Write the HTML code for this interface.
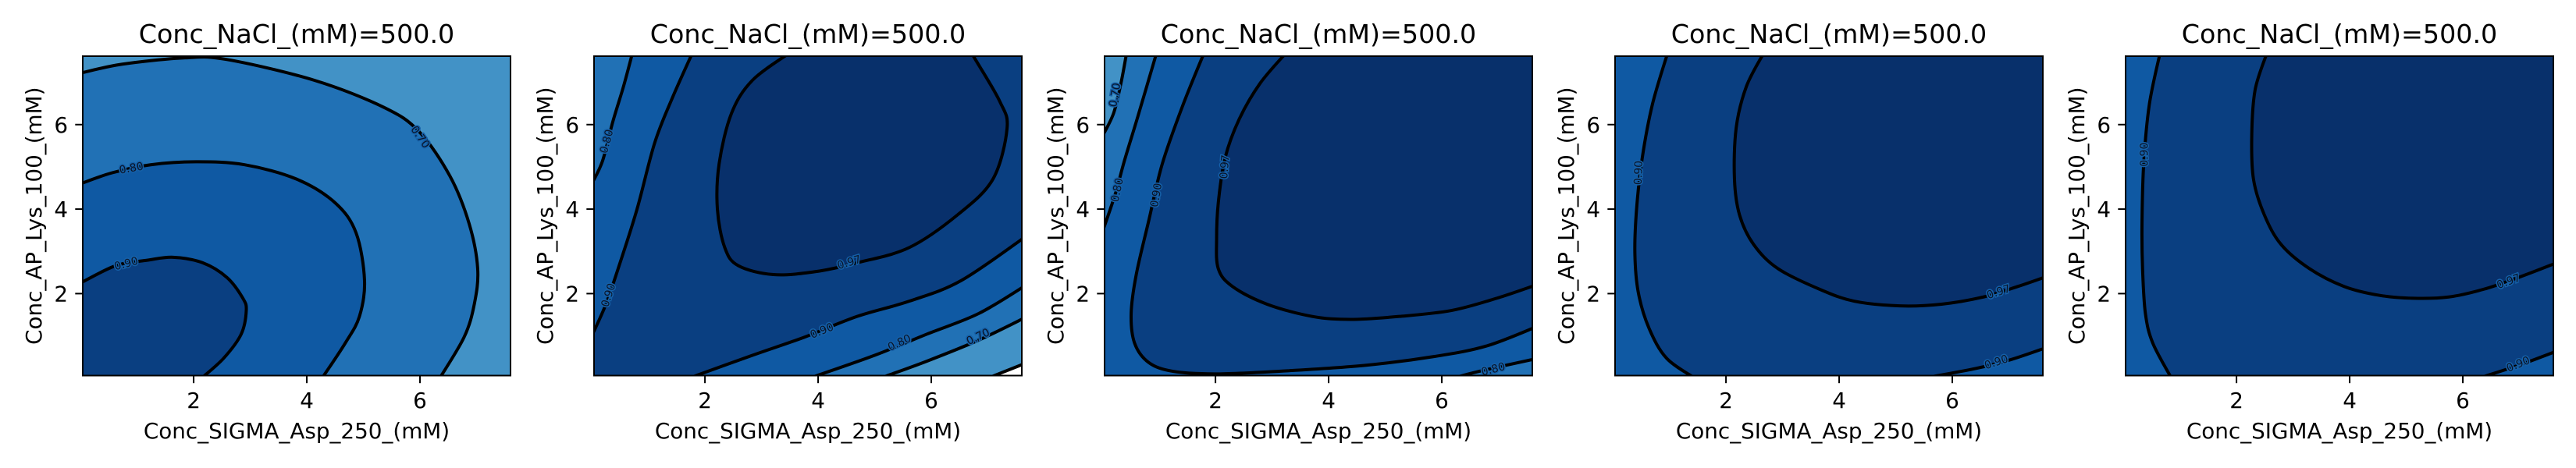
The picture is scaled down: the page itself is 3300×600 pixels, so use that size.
<!DOCTYPE html>
<html>
<head>
<meta charset="utf-8">
<style>
  html, body { margin: 0; padding: 0; background: #ffffff; }
  svg { display: block; }
  text { font-family: "DejaVu Sans", "Liberation Sans", sans-serif; fill: #000; }
</style>
</head>
<body>
<svg id="fig" xmlns="http://www.w3.org/2000/svg" width="3300" height="600" viewBox="0 0 3300 600">
  <rect x="0" y="0" width="3300" height="600" fill="#ffffff"></rect>
</svg>
<script>
// ---------- data ----------
const xTicks = [2, 4, 6];
const yTicks = [2, 4, 6];
const panelTitles = ["Conc_NaCl_(mM)=500.0","Conc_NaCl_(mM)=500.0","Conc_NaCl_(mM)=500.0","Conc_NaCl_(mM)=500.0","Conc_NaCl_(mM)=500.0"];
const xLabelText = "Conc_SIGMA_Asp_250_(mM)";
const yLabelText = "Conc_AP_Lys_100_(mM)";
const levelColors = {base0:"#ffffff", 0.6:"#4292c6", 0.7:"#2171b5", 0.8:"#0f59a3", 0.9:"#0a3f81", 0.97:"#08306b"};

// panel 1
const p1Base = 0.6;
const p1Levels = [0.9, 0.8, 0.7];
const p1Lines = [
  [[0,2.25],[0.62,2.66],[1.18,2.79],[1.64,2.86],[2.16,2.73],[2.59,2.38],[2.87,1.89],[2.93,1.6],[2.84,1.04],[2.53,0.47],[2.14,0]],
  [[0,4.6],[0.56,4.86],[1.24,5.05],[2.04,5.12],[2.9,5.05],[3.82,4.71],[4.5,4.15],[4.87,3.44],[5.02,2.31],[4.93,1.46],[4.68,0.83],[4.27,0]],
  [[0,7.22],[0.74,7.43],[1.85,7.58],[2.59,7.54],[4.13,7.05],[5.36,6.41],[5.98,5.84],[6.53,4.78],[6.87,3.65],[7.02,2.59],[6.96,1.75],[6.78,0.97],[6.35,0]]
];
const p1Fills = [[0.7,[2,"BL"]],[0.8,[1,"BL"]],[0.9,[0,"BL"]]];
const p1Labels = [["0.90",0.81,2.7,-15],["0.80",0.9,4.96,-10],["0.70",6.0,5.7,55]];

// panel 2
const p2Base = "base0";
const p2Levels = [0.8, 0.9, 0.97, 0.9, 0.8, 0.7, 0.6];
const p2Lines = [
  [[0,4.6],[0.19,5.14],[0.37,6.06],[0.56,6.9],[0.72,7.7]],
  [[0,1.0],[0.25,1.75],[0.5,2.73],[0.8,4.0],[1.11,5.56],[1.42,6.62],[1.78,7.7]],
  [[3.5,7.7],[2.84,7.05],[2.47,6.27],[2.25,5.07],[2.22,4.0],[2.35,3.09],[2.59,2.66],[3.21,2.45],[3.95,2.52],[4.69,2.73],[5.61,3.09],[6.47,3.87],[7.09,4.71],[7.34,5.92],[7.21,6.55],[6.78,7.54],[6.7,7.7]],
  [[1.72,0],[2.84,0.54],[3.76,0.97],[4.69,1.46],[5.61,1.82],[6.53,2.31],[7.7,3.38]],
  [[3.85,0],[5.0,0.54],[5.92,1.04],[6.84,1.53],[7.7,2.22]],
  [[5.1,0],[5.92,0.4],[6.84,0.9],[7.7,1.46]],
  [[7.0,0],[7.7,0.37]]
];
const p2Fills = [[0.6,[6,"TR","TL","BL"]],[0.7,[5,"TR","TL","BL"]],[0.8,[0,"TR",-4,"BL"]],[0.9,[1,"TR",-3,"BL"]],[0.97,[2]]];
const p2Labels = [["0.80",0.27,5.6,-75],["0.90",0.3,1.96,-72],["0.97",4.55,2.73,-17],["0.90",4.07,1.11,-22],["0.80",5.44,0.83,-25],["0.70",6.83,0.97,-25]];

// panel 3
const p3Base = 0.6;
const p3Levels = [0.7, 0.8, 0.9, 0.8, 0.97];
const p3Lines = [
  [[0,5.72],[0.2,6.27],[0.33,6.98],[0.43,7.7]],
  [[0,3.45],[0.23,4.36],[0.39,5.14],[0.63,6.2],[0.96,7.7]],
  [[1.8,7.7],[1.43,6.48],[1.06,5.07],[0.82,3.72],[0.6,2.45],[0.51,1.53],[0.57,0.83],[0.82,0.37],[1.25,0.16],[1.99,0.1],[3.1,0.16],[4.63,0.3],[5.86,0.51],[6.79,0.76],[7.7,1.23]],
  [[6.2,0],[6.66,0.16],[7.7,0.47]],
  [[3.25,7.7],[2.79,6.98],[2.42,6.13],[2.17,5.21],[2.05,4.15],[2.02,3.3],[2.05,2.59],[2.3,2.17],[2.91,1.75],[3.71,1.46],[4.39,1.39],[5.25,1.46],[6.17,1.6],[6.97,1.89],[7.7,2.22]]
];
const p3Fills = [[0.7,[0,"TR","BR","BL"]],[0.8,[1,"TR",-3,"BL"]],[0.9,[2,"TR"]],[0.97,[4,"TR"]]];
const p3Labels = [["0.70",0.23,6.7,-80],["0.80",0.27,4.45,-78],["0.90",0.96,4.33,-80],["0.97",2.17,5.0,-85],["0.80",6.91,0.2,-15]];

// panel 4
const p4Base = 0.8;
const p4Levels = [0.9, 0.9, 0.97];
const p4Lines = [
  [[0.97,7.7],[0.7,6.48],[0.52,5.21],[0.42,4.0],[0.39,2.95],[0.45,2.03],[0.64,1.18],[0.95,0.47],[1.45,0]],
  [[5.5,0],[6.42,0.23],[7.04,0.44],[7.7,0.74]],
  [[2.67,7.7],[2.36,6.9],[2.18,5.92],[2.15,4.71],[2.24,3.86],[2.49,3.16],[2.92,2.59],[3.66,2.1],[4.27,1.82],[5.07,1.71],[5.81,1.75],[6.55,1.92],[7.16,2.17],[7.7,2.42]]
];
const p4Fills = [[0.9,[0,1,"TR"]],[0.97,[2,"TR"]]];
const p4Labels = [["0.90",0.46,4.86,-88],["0.97",6.82,2.03,-18],["0.90",6.78,0.37,-18]];

// panel 5
const p5Base = 0.8;
const p5Levels = [0.9, 0.9, 0.97];
const p5Lines = [
  [[0.65,7.7],[0.46,6.48],[0.36,5.07],[0.33,3.65],[0.34,2.59],[0.39,1.53],[0.52,0.83],[0.85,0]],
  [[6.28,0],[6.98,0.3],[7.7,0.66]],
  [[2.54,7.7],[2.33,6.83],[2.27,5.77],[2.3,4.71],[2.49,3.87],[2.79,3.16],[3.29,2.59],[3.9,2.17],[4.52,1.96],[5.13,1.89],[5.75,1.92],[6.36,2.1],[6.98,2.38],[7.7,2.75]]
];
const p5Fills = [[0.9,[0,1,"TR"]],[0.97,[2,"TR"]]];
const p5Labels = [["0.90",0.38,5.29,-90],["0.97",6.81,2.28,-20],["0.90",6.98,0.32,-22]];

// ---------- layout ----------
const NS = "http://www.w3.org/2000/svg";
const svg = document.getElementById("fig");
const panelLefts = [106, 761, 1415, 2069, 2723];
const plotTop = 72, plotW = 548, plotH = 409.5;
const xMin = 0.04, xMax = 7.6, yMin = 0.06, yMax = 7.62;
const corners = {TL:[0,7.7], TR:[7.7,7.7], BL:[0,0], BR:[7.7,0]};

function mk(tag, attrs, parent) {
  const el = document.createElementNS(NS, tag);
  for (const k in attrs) el.setAttribute(k, attrs[k]);
  parent.appendChild(el);
  return el;
}

function curveSeg(pts, sx, sy, start) {
  const P = pts.map(p => [sx(p[0]), sy(p[1])]);
  let d = (start ? "M" : "L") + P[0][0].toFixed(2) + "," + P[0][1].toFixed(2);
  for (let i = 0; i < P.length - 1; i++) {
    const p0 = P[i - 1] || P[i], p1 = P[i], p2 = P[i + 1], p3 = P[i + 2] || P[i + 1];
    const c1 = [p1[0] + (p2[0] - p0[0]) / 6, p1[1] + (p2[1] - p0[1]) / 6];
    const c2 = [p2[0] - (p3[0] - p1[0]) / 6, p2[1] - (p3[1] - p1[1]) / 6];
    d += "C" + c1[0].toFixed(2) + "," + c1[1].toFixed(2) + " " + c2[0].toFixed(2) + "," + c2[1].toFixed(2) + " " + p2[0].toFixed(2) + "," + p2[1].toFixed(2);
  }
  return d;
}

const panels = [
  [p1Base, p1Levels, p1Lines, p1Fills, p1Labels],
  [p2Base, p2Levels, p2Lines, p2Fills, p2Labels],
  [p3Base, p3Levels, p3Lines, p3Fills, p3Labels],
  [p4Base, p4Levels, p4Lines, p4Fills, p4Labels],
  [p5Base, p5Levels, p5Lines, p5Fills, p5Labels]
];

panels.forEach((pd, pi) => {
  const [base, levels, lines, fills, labels] = pd;
  const L = panelLefts[pi];
  const sx = x => L + (x - xMin) / (xMax - xMin) * plotW;
  const sy = y => plotTop + plotH - (y - yMin) / (yMax - yMin) * plotH;

  const g = mk("g", {}, svg);
  
  

  const cp = mk("clipPath", {id: "clip" + pi}, g);
  mk("rect", {x: L, y: plotTop, width: plotW, height: plotH}, cp);

  const plot = mk("g", {"clip-path": "url(#clip" + pi + ")"}, g);
  
  

  const bg = mk("rect", {x: L, y: plotTop, width: plotW, height: plotH, fill: levelColors[base]}, plot);
  
  

  fills.forEach(f => {
    const lvl = f[0], toks = f[1];
    let d = "", first = true;
    toks.forEach(t => {
      if (typeof t === "string") {
        const c = corners[t];
        d += (first ? "M" : "L") + sx(c[0]).toFixed(2) + "," + sy(c[1]).toFixed(2);
      } else {
        const rev = t < 0;
        const pts = rev ? lines[-t].slice().reverse() : lines[t];
        d += curveSeg(pts, sx, sy, first);
      }
      first = false;
    });
    d += "Z";
    const p = mk("path", {d: d, fill: levelColors[lvl], stroke: "none"}, plot);
    
    
  });

  lines.forEach((pts, li) => {
    const p = mk("path", {d: curveSeg(pts, sx, sy, true), fill: "none", stroke: "#000", "stroke-width": 4, "stroke-linejoin": "round"}, plot);
    
    
  });

  labels.forEach(lb => {
    const x = sx(lb[1]), y = sy(lb[2]);
    const halo = mk("text", {x: x, y: y, "font-size": 14, "text-anchor": "middle", "dominant-baseline": "central",
      transform: "rotate(" + lb[3] + " " + x + " " + y + ")", stroke: "#1560a8", "stroke-width": 3, style: "fill:#1560a8"}, plot);
    halo.textContent = lb[0];
    
    
    const t = mk("text", {x: x, y: y, "font-size": 14, "text-anchor": "middle", "dominant-baseline": "central",
      transform: "rotate(" + lb[3] + " " + x + " " + y + ")", style: "fill:#0a1428"}, plot);
    t.textContent = lb[0];
    
    
  });

  const frame = mk("rect", {x: L, y: plotTop, width: plotW, height: plotH, fill: "none", stroke: "#000", "stroke-width": 2}, g);
  
  

  xTicks.forEach(v => {
    const x = sx(v);
    const tk = mk("line", {x1: x, x2: x, y1: plotTop + plotH, y2: plotTop + plotH + 9.7, stroke: "#000", "stroke-width": 2}, g);
    
    
    const tl = mk("text", {x: x, y: 523, "font-size": 27.8, "text-anchor": "middle"}, g);
    tl.textContent = v;
    
    
  });
  yTicks.forEach(v => {
    const y = sy(v);
    const tk = mk("line", {x1: L - 9.7, x2: L, y1: y, y2: y, stroke: "#000", "stroke-width": 2}, g);
    
    
    const tl = mk("text", {x: L - 19, y: y + 10, "font-size": 27.8, "text-anchor": "end"}, g);
    tl.textContent = v;
    
    
  });

  const title = mk("text", {x: L + plotW / 2, y: 55, "font-size": 33.3, "text-anchor": "middle"}, g);
  title.textContent = panelTitles[pi];
  
  

  const xl = mk("text", {x: L + plotW / 2, y: 562, "font-size": 27.8, "text-anchor": "middle"}, g);
  xl.textContent = xLabelText;
  
  

  const yc = plotTop + plotH / 2;
  const yl = mk("text", {x: 0, y: 0, "font-size": 27.8, "text-anchor": "middle", transform: "translate(" + (L - 53) + "," + yc + ") rotate(-90)"}, g);
  yl.textContent = yLabelText;
  
  
});
</script>
</body>
</html>
